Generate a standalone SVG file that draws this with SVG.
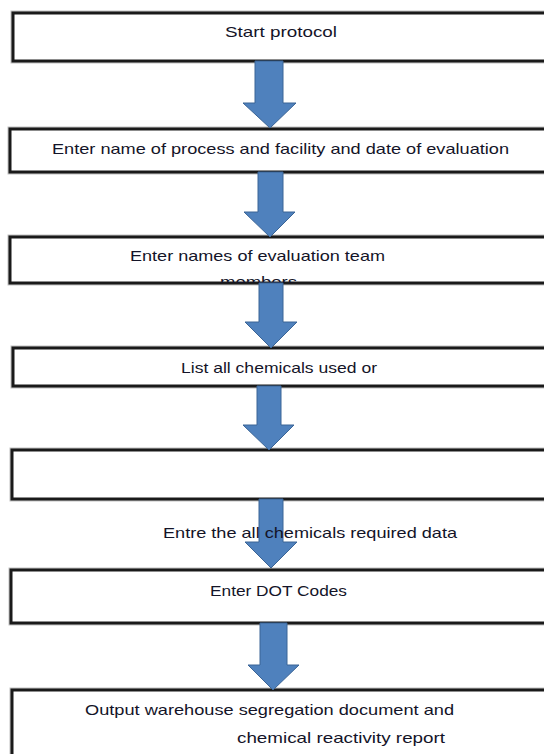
<svg xmlns="http://www.w3.org/2000/svg" width="544" height="754" viewBox="0 0 544 754">
  <style>
    .box { fill: #ffffff; stroke: #1a1a1a; stroke-width: 3; }
    .shadow { fill: none; stroke: #9a9a9a; stroke-width: 5; opacity: 0.6; }
    .label { font-family: "Liberation Sans", Arial, sans-serif; font-size: 15px; fill: #141428; }
    .arrow { fill: #4f81bd; stroke: #3a6496; stroke-width: 1; }
  </style>
  <defs>
    <clipPath id="clip-team">
      <rect x="10" y="237" width="560" height="46"/>
    </clipPath>
  </defs>
  <rect width="544" height="754" fill="#ffffff"/>

  <g id="node-start">
    <rect class="shadow" x="13" y="13" width="560" height="48"/>
    <rect class="box" x="13" y="13" width="560" height="48"/>
    <text class="label" x="225" y="37" textLength="112" lengthAdjust="spacingAndGlyphs">Start protocol</text>
  </g>

  <g id="node-process">
    <rect class="shadow" x="10" y="129" width="560" height="43"/>
    <rect class="box" x="10" y="129" width="560" height="43"/>
    <text class="label" x="52" y="154" textLength="457" lengthAdjust="spacingAndGlyphs">Enter name of process and facility and date of evaluation</text>
  </g>

  <g id="node-team">
    <rect class="shadow" x="10" y="237" width="560" height="46"/>
    <rect class="box" x="10" y="237" width="560" height="46"/>
    <g clip-path="url(#clip-team)">
      <text class="label" x="130" y="261" textLength="255" lengthAdjust="spacingAndGlyphs">Enter names of evaluation team</text>
      <text class="label" x="220" y="287" textLength="77" lengthAdjust="spacingAndGlyphs">members</text>
    </g>
  </g>

  <g id="node-chemicals">
    <rect class="shadow" x="13" y="348" width="560" height="38"/>
    <rect class="box" x="13" y="348" width="560" height="38"/>
    <text class="label" x="181" y="373" textLength="196" lengthAdjust="spacingAndGlyphs">List all chemicals used or</text>
  </g>

  <g id="node-data">
    <rect class="shadow" x="12" y="450" width="560" height="49"/>
    <rect class="box" x="12" y="450" width="560" height="49"/>
  </g>

  <g id="node-dot">
    <rect class="shadow" x="11" y="570" width="560" height="53"/>
    <rect class="box" x="11" y="570" width="560" height="53"/>
    <text class="label" x="210" y="596" textLength="137" lengthAdjust="spacingAndGlyphs">Enter DOT Codes</text>
  </g>

  <g id="node-output">
    <rect class="shadow" x="12" y="690" width="560" height="80"/>
    <rect class="box" x="12" y="690" width="560" height="80"/>
    <text class="label" x="85" y="715" textLength="369" lengthAdjust="spacingAndGlyphs">Output warehouse segregation document and</text>
    <text class="label" x="237" y="743" textLength="208" lengthAdjust="spacingAndGlyphs">chemical reactivity report</text>
  </g>

  <!-- block arrows between steps -->
  <g id="connectors">
    <polygon class="arrow" points="255,61 283,61 283,103 296,103 270,128 243,103 255,103"/>
    <polygon class="arrow" points="258,172 283,172 283,212 295,212 270,237 244,212 258,212"/>
    <polygon class="arrow" points="259,283 283,283 283,322 297,322 271,348 245,322 259,322"/>
    <polygon class="arrow" points="257,386 281,386 281,425 294,425 269,450 243,425 257,425"/>
    <polygon class="arrow" points="259,499 283,499 283,542 297,542 271,568 245,542 259,542"/>
    <polygon class="arrow" points="260,623 287,623 287,665 299,665 273,690 248,665 260,665"/>
  </g>

  <g id="node-data-label">
    <text class="label" x="163" y="538" textLength="294" lengthAdjust="spacingAndGlyphs">Entre the all chemicals required data</text>
  </g>
</svg>
